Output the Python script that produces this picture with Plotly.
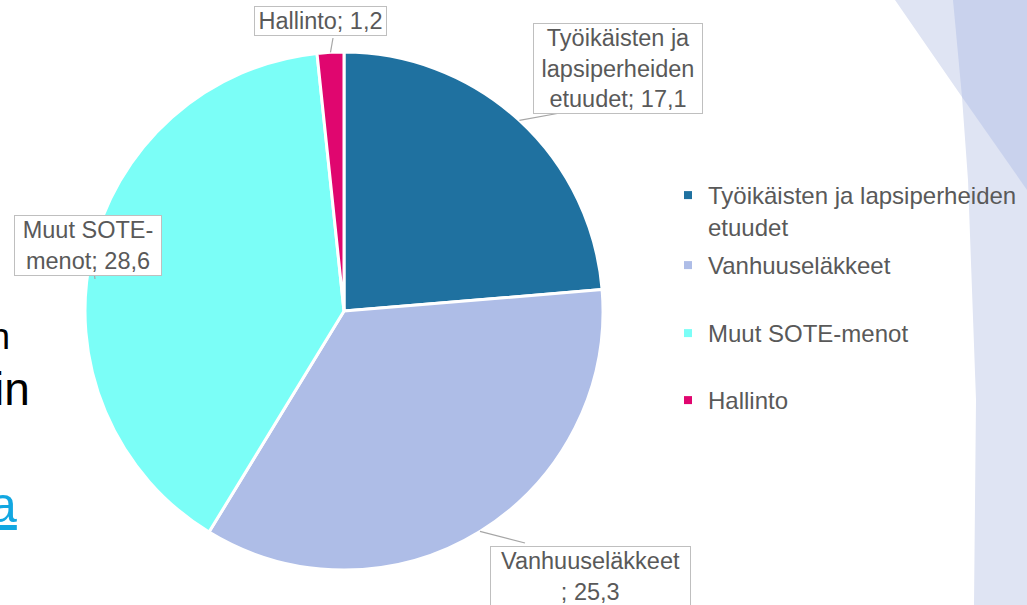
import math
import plotly.graph_objects as go

# ---------------- data ----------------
categories = ["Työikäisten ja lapsiperheiden etuudet", "Vanhuuseläkkeet",
              "Muut SOTE-menot", "Hallinto"]
values = [17.1, 25.3, 28.6, 1.2]
legend_names = ["Työikäisten ja lapsiperheiden<br>etuudet", "Vanhuuseläkkeet",
                "Muut SOTE-menot", "Hallinto"]
label_names = ["Työikäisten ja<br>lapsiperheiden<br>etuudet", "Vanhuuseläkkeet<br>",
               "Muut SOTE-<br>menot", "Hallinto"]

# ---------------- styles ----------------
colors = ["#1F71A0", "#AEBDE7", "#7BFEF7", "#E0066F"]
W, H = 1027, 605
FONT = "Liberation Sans, Arial, sans-serif"
TXT = "#595959"


def px(x):
    return x / W


def py(y):
    return 1 - y / H


def fmt(v):
    return f"{v:.1f}".replace(".", ",")


fig = go.Figure()

# pie geometry (pixels)
cx, cy, r = 344, 311, 259
fig.add_trace(go.Pie(
    labels=categories, values=values, sort=False, direction="clockwise",
    rotation=0, textinfo="none", hoverinfo="label+value",
    marker=dict(colors=colors, line=dict(color="white", width=3)),
    domain=dict(x=[px(cx - r), px(cx + r)], y=[py(cy + r), py(cy - r)]),
    showlegend=False,
))

# legend entries as separate legends for PowerPoint-like spacing
legend_first_line_y = [195, 265, 333, 400]
legend_keys = ["legend", "legend2", "legend3", "legend4"]
for name, col, key in zip(legend_names, colors, legend_keys):
    fig.add_trace(go.Scatter(
        x=[None], y=[None], mode="markers", name=name, legend=key,
        marker=dict(symbol="square", size=8, color=col),
        showlegend=True, hoverinfo="skip",
    ))

leg_left = 668
legend_layouts = {}
for key, yc in zip(legend_keys, legend_first_line_y):
    legend_layouts[key] = dict(
        x=px(leg_left), xanchor="left", y=py(yc - 22), yanchor="top",
        valign="top", bgcolor="rgba(0,0,0,0)", borderwidth=0,
        font=dict(family=FONT, size=24, color=TXT),
    )

# background decoration shapes (slide design)
def path(points):
    s = "M " + " L ".join(f"{px(x)},{py(y)}" for x, y in points) + " Z"
    return s

shapes = [
    dict(type="path", xref="paper", yref="paper", layer="below", line=dict(width=0),
         fillcolor="#DFE4F3",
         path=path([(895, 0), (1027, 0), (1027, 605), (974, 605), (976, 400),
                    (968, 180), (962, 97)])),
    dict(type="path", xref="paper", yref="paper", layer="below", line=dict(width=0),
         fillcolor="#C9D2ED",
         path=path([(953, 0), (1027, 0), (1027, 190), (962, 97)])),
]

# data label boxes
box_centers = [(618, 68), (590, 576), (88, 245), (320, 21)]
box_widths = [166, 197, 144, 129]
annotations = []
for nm, v, (bx, by), bw in zip(label_names, values, box_centers, box_widths):
    annotations.append(dict(
        xref="paper", yref="paper", x=px(bx), y=py(by), xanchor="center",
        yanchor="middle", text=f"{nm}; {fmt(v)}", showarrow=False, align="center",
        font=dict(family=FONT, size=23.5, color=TXT), bgcolor="white",
        bordercolor="#BFBFBF", borderwidth=1, borderpad=1, width=bw,
    ))

# leader lines from slice mid-angle on the rim to the label box
total = sum(values)
leader_ends = [(560, 113), (525, 543), (95, 279), (333, 38)]
cum = 0
for v, (ex, ey) in zip(values, leader_ends):
    mid = (cum + v / 2) / total * 2 * math.pi
    cum += v
    sx = cx + r * math.sin(mid)
    sy = cy - r * math.cos(mid)
    shapes.append(dict(type="line", xref="paper", yref="paper",
                       x0=px(sx), y0=py(sy), x1=px(ex), y1=py(ey),
                       line=dict(color="#A6A6A6", width=1.2), layer="above"))

# partial slide text behind the chart on the left
annotations += [
    dict(xref="paper", yref="paper", x=px(12), y=py(336), xanchor="right", yanchor="middle",
         text="n", showarrow=False, font=dict(family=FONT, size=36, color="#000000")),
    dict(xref="paper", yref="paper", x=px(32), y=py(389), xanchor="right", yanchor="middle",
         text="in", showarrow=False, font=dict(family=FONT, size=46, color="#000000")),
    dict(xref="paper", yref="paper", x=px(19), y=py(505), xanchor="right", yanchor="middle",
         text="<u>a</u>", showarrow=False, font=dict(family=FONT, size=50, color="#12A7E1")),
]

fig.update_layout(
    width=W, height=H, autosize=False,
    margin=dict(l=0, r=0, t=0, b=0),
    paper_bgcolor="white", plot_bgcolor="rgba(0,0,0,0)",
    xaxis=dict(visible=False), yaxis=dict(visible=False),
    shapes=shapes, annotations=annotations,
    **legend_layouts,
)

fig.write_html(
    "out.html",
    config={"displayModeBar": False},
    post_script="document.body.style.margin='0';document.body.style.overflow='hidden';",
)
